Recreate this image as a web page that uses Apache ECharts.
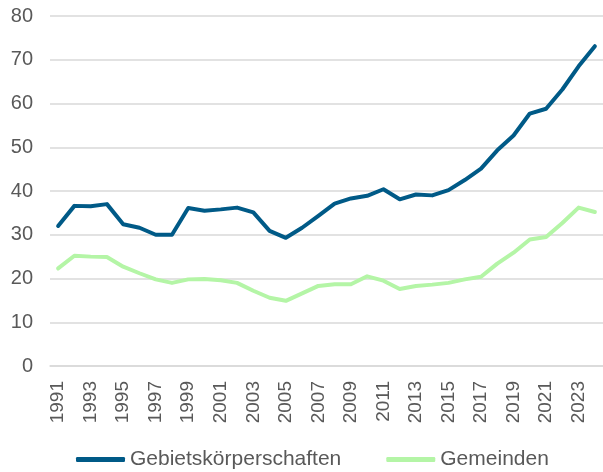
<!DOCTYPE html>
<html>
<head>
<meta charset="utf-8">
<script src="https://cdn.jsdelivr.net/npm/echarts@6/dist/echarts.min.js"></script>
<style>
  html, body { margin: 0; padding: 0; background: #ffffff; }
  #chart { width: 603px; height: 472px; }
</style>
</head>
<body>
<div id="chart"></div>
<script>
// Jahre 1991 - 2024
var years = [];
for (var y = 1991; y <= 2024; y++) years.push(String(y));

var gebietskoerperschaften = [
  32.0, 36.6, 36.5, 37.0, 32.4, 31.6, 30.0, 30.0, 36.1, 35.5,
  35.8, 36.2, 35.1, 30.9, 29.3, 31.6, 34.3, 37.1, 38.3, 38.9,
  40.4, 38.1, 39.2, 39.0, 40.2, 42.5, 45.1, 49.3, 52.7, 57.7,
  58.8, 63.2, 68.5, 73.1
];
var gemeinden = [
  22.3, 25.2, 25.0, 24.9, 22.7, 21.2, 19.8, 19.0, 19.8, 19.9,
  19.6, 19.0, 17.2, 15.6, 14.9, 16.6, 18.3, 18.7, 18.7, 20.5,
  19.5, 17.6, 18.3, 18.6, 19.0, 19.8, 20.4, 23.4, 25.9, 28.9,
  29.5, 32.7, 36.2, 35.2
];

var blau = '#005a87';
var gruen = '#b4f5a6';
var grau = '#595959';
var schrift = 'Liberation Sans, Arial, sans-serif';

var chart = echarts.init(document.getElementById('chart'));
var option = {
  animation: false,
  grid: { left: 50, right: -3, top: 16, bottom: 106 },
  legend: {
    bottom: -3,
    left: 71,
    icon: 'roundRect',
    itemWidth: 49,
    itemHeight: 5,
    itemGap: 45,
    textStyle: { color: grau, fontSize: 21, fontFamily: schrift },
    data: [
      { name: 'Gebietskörperschaften', itemStyle: { color: blau } },
      { name: 'Gemeinden', itemStyle: { color: gruen } }
    ]
  },
  xAxis: {
    type: 'category',
    data: years,
    boundaryGap: true,
    axisLine: { show: true, lineStyle: { color: '#d9d9d9', width: 1.5 } },
    axisTick: { show: false },
    axisLabel: {
      rotate: 90,
      interval: 1,
      margin: 15,
      color: grau,
      fontSize: 19,
      fontFamily: schrift
    }
  },
  yAxis: {
    type: 'value',
    min: 0,
    max: 80,
    interval: 10,
    axisLine: { show: false },
    axisTick: { show: false },
    splitLine: { lineStyle: { color: '#d9d9d9', width: 1.5 } },
    axisLabel: { margin: 17, color: grau, fontSize: 20, fontFamily: schrift }
  },
  series: [
    {
      name: 'Gebietskörperschaften',
      type: 'line',
      data: gebietskoerperschaften,
      showSymbol: false,
      lineStyle: { color: blau, width: 4, cap: 'round', join: 'round' },
      itemStyle: { color: blau },
      z: 3
    },
    {
      name: 'Gemeinden',
      type: 'line',
      data: gemeinden,
      showSymbol: false,
      lineStyle: { color: gruen, width: 4, cap: 'round', join: 'round' },
      itemStyle: { color: gruen },
      z: 2
    }
  ]
};
chart.setOption(option);
</script>
</body>
</html>
